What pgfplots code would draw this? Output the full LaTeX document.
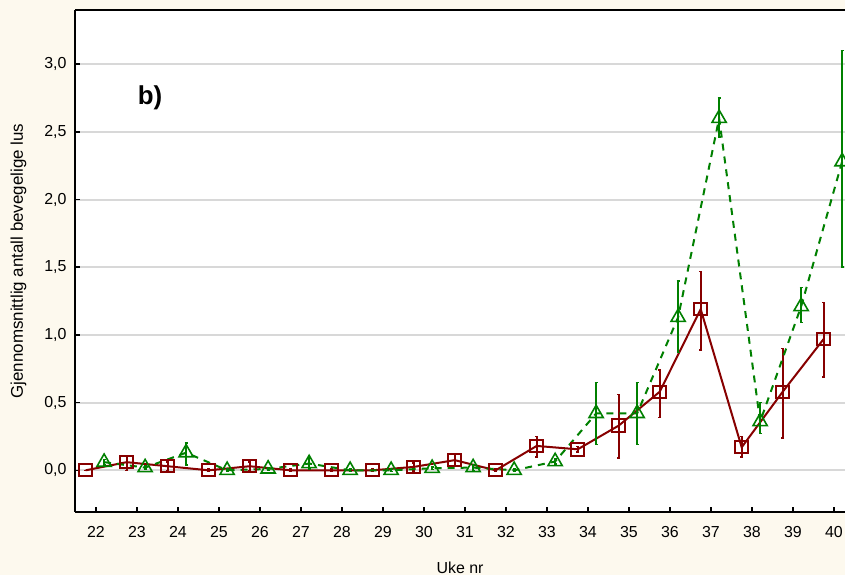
\documentclass[border=0pt]{standalone}
\usepackage{pgfplots}
\usepackage{pgfplotstable}
\pgfplotsset{compat=1.18}
\usepackage{fontspec}
\setmainfont{Liberation Sans}
\definecolor{cream}{RGB}{253,249,238}
\definecolor{dred}{RGB}{135,0,0}
\definecolor{dgreen}{RGB}{0,128,0}
\definecolor{gridg}{RGB}{216,216,216}

\pgfplotstableread{
x y ep em
21.75 0.00 0.00 0.00
22.75 0.06 0.045 0.06
23.75 0.03 0.03 0.03
24.75 0.00 0.01 0.01
25.75 0.03 0.03 0.03
26.75 0.00 0.01 0.01
27.75 0.00 0.01 0.01
28.75 0.00 0.01 0.01
29.75 0.025 0.03 0.03
30.75 0.075 0.04 0.04
31.75 0.00 0.01 0.01
32.75 0.18 0.07 0.08
33.75 0.155 0.02 0.02
34.75 0.33 0.23 0.24
35.75 0.58 0.16 0.19
36.75 1.19 0.28 0.30
37.75 0.17 0.08 0.07
38.75 0.58 0.32 0.34
39.75 0.97 0.27 0.28
}\redtab

\pgfplotstableread{
x y ep em
22.2 0.06 0.02 0.02
23.2 0.02 0.01 0.01
24.2 0.13 0.07 0.09
25.2 0.00 0.01 0.01
26.2 0.01 0.01 0.01
27.2 0.05 0.04 0.04
28.2 0.00 0.01 0.01
29.2 0.00 0.01 0.01
30.2 0.015 0.01 0.01
31.2 0.02 0.02 0.02
32.2 0.00 0.01 0.01
33.2 0.065 0.02 0.02
34.2 0.42 0.23 0.23
35.2 0.42 0.23 0.23
36.2 1.13 0.27 0.26
37.2 2.60 0.15 0.14
38.2 0.36 0.14 0.09
39.2 1.21 0.14 0.12
40.2 2.28 0.82 0.78
}\greentab

\begin{document}
\begin{tikzpicture}[x=1bp,y=1bp]
\fill[cream] (0,0) rectangle (845,575);
\useasboundingbox (0,0) rectangle (845,575);
\begin{axis}[
  at={(75bp,63bp)}, anchor=south west,
  width=770bp, height=502bp, scale only axis,
  xmin=21.49, xmax=40.27, ymin=-0.308, ymax=3.40,
  axis background/.style={fill=white},
  axis x line*=box, axis y line*=left,
  axis line style={line width=2bp, black},
  xtick={22,...,40},
  ytick={0,0.5,...,3.0},
  xtick pos=bottom, ytick pos=left,
  tick align=inside,
  major tick length=5bp,
  tick style={line width=1.5bp, black},
  ymajorgrids,
  grid style={gridg, line width=2bp},
  /pgf/number format/assume math mode=true,
  y tick label style={/pgf/number format/fixed, /pgf/number format/fixed zerofill, /pgf/number format/precision=1, /pgf/number format/use comma, xshift=-5bp},
  ticklabel style={font=\fontsize{16}{19}\selectfont},
  x tick label style={yshift=-11bp},
  xlabel={Uke nr},
  ylabel={Gjennomsnittlig antall bevegelige lus},
  label style={font=\fontsize{16}{19}\selectfont},
  ylabel style={font=\fontsize{17}{20}\selectfont, yshift=11bp},
  xlabel style={yshift=-17bp},
  clip=false,
]
\addplot[dred, line width=2bp, mark=square, mark size=6.2bp,
  mark options={line width=2bp, fill=none},
  error bars/.cd, y dir=both, y explicit,
  error bar style={line width=2bp, dred},
  error mark options={rotate=90, mark size=1.5bp, line width=1.5bp, dred}]
  table[x=x, y=y, y error plus=ep, y error minus=em] {\redtab};
\addplot[dgreen, line width=2bp, dash pattern=on 7bp off 6bp, mark=triangle, mark size=8.2bp,
  mark options={solid, line width=1.6bp, fill=none},
  error bars/.cd, y dir=both, y explicit,
  error bar style={line width=2bp, dgreen, solid},
  error mark options={rotate=90, mark size=1.5bp, line width=1.5bp, dgreen}]
  table[x=x, y=y, y error plus=ep, y error minus=em] {\greentab};
\node[font=\bfseries\fontsize{26}{30}\selectfont] at (axis cs:23.32,2.75) {b)};
\end{axis}
\end{tikzpicture}
\end{document}
